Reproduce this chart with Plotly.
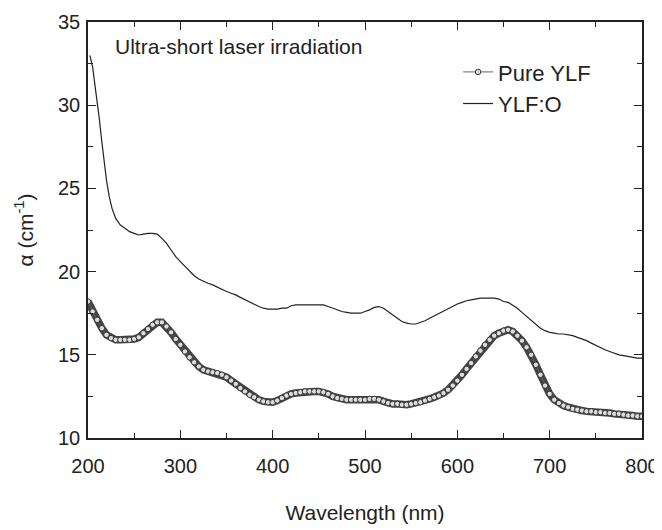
import plotly.graph_objects as go

# Pure YLF
pure_wl = list(range(200, 801, 5))
pure_alpha = [
    18.2, 17.6, 17.1, 16.6, 16.2, 16.0, 15.9, 15.9, 15.9, 15.9,
    15.95, 16.05, 16.3, 16.55, 16.8, 16.95, 16.95, 16.7, 16.35, 15.95,
    15.6, 15.2, 14.85, 14.55, 14.3, 14.1, 14.0, 13.95, 13.9, 13.8,
    13.65, 13.45, 13.25, 13.0, 12.8, 12.6, 12.45, 12.3, 12.2, 12.15,
    12.15, 12.25, 12.4, 12.55, 12.65, 12.7, 12.75, 12.8, 12.8, 12.8,
    12.8, 12.75, 12.65, 12.5, 12.4, 12.35, 12.3, 12.3, 12.3, 12.3,
    12.3, 12.35, 12.35, 12.3, 12.2, 12.1, 12.05, 12.05, 12.0, 12.0,
    12.05, 12.1, 12.15, 12.25, 12.35, 12.45, 12.55, 12.7, 12.9, 13.15,
    13.45, 13.8, 14.15, 14.5, 14.9, 15.25, 15.6, 15.9, 16.15, 16.3,
    16.45, 16.5, 16.4, 16.15, 15.85, 15.45, 15.0, 14.4, 13.8, 13.15,
    12.65, 12.3, 12.1, 11.95, 11.85, 11.75, 11.7, 11.65, 11.6, 11.6,
    11.55, 11.55, 11.5, 11.5, 11.45, 11.45, 11.4, 11.35, 11.35, 11.3,
    11.3,
]

# YLF:O
o_wl = [202, 205, 208, 210, 212, 215, 218, 220, 223, 226] + list(range(230, 801, 5))
o_alpha = [
    33.0, 32.3, 31.0, 30.2, 29.3, 27.8, 26.4, 25.5, 24.5, 23.8,
    23.2, 22.8, 22.6, 22.4, 22.3, 22.2, 22.25, 22.3, 22.3, 22.25,
    22.0, 21.7, 21.3, 20.9, 20.6, 20.3, 20.0, 19.75, 19.55, 19.4,
    19.3, 19.2, 19.05, 18.95, 18.8, 18.7, 18.6, 18.45, 18.3, 18.15,
    18.05, 17.9, 17.8, 17.75, 17.75, 17.75, 17.8, 17.8, 17.95, 18.0,
    18.0, 18.0, 18.0, 18.0, 18.0, 18.0, 17.9, 17.8, 17.7, 17.6,
    17.55, 17.5, 17.5, 17.5, 17.6, 17.7, 17.85, 17.9, 17.8, 17.6,
    17.35, 17.15, 17.0, 16.9, 16.85, 16.85, 16.95, 17.05, 17.2, 17.35,
    17.5, 17.65, 17.8, 17.95, 18.05, 18.15, 18.25, 18.3, 18.35, 18.4,
    18.4, 18.4, 18.4, 18.35, 18.2, 18.15, 18.0, 17.8, 17.55, 17.3,
    17.05, 16.8, 16.6, 16.45, 16.35, 16.3, 16.25, 16.25, 16.2, 16.15,
    16.05, 15.95, 15.85, 15.7, 15.55, 15.45, 15.3, 15.2, 15.1, 15.0,
    14.95, 14.9, 14.85, 14.8, 14.8,
]

x_ticks = [200, 300, 400, 500, 600, 700, 800]
y_ticks = [10, 15, 20, 25, 30, 35]

FONT = "Liberation Sans, Arial, sans-serif"
INK = "#222222"

fig = go.Figure()
# dense band under the Pure YLF markers (same data)
fig.add_trace(go.Scatter(
    x=pure_wl, y=pure_alpha, mode="lines", showlegend=False, hoverinfo="skip",
    line=dict(color="#444444", width=7.5),
))
fig.add_trace(go.Scatter(
    x=pure_wl, y=pure_alpha, mode="lines+markers", name="Pure YLF",
    line=dict(color="#666666", width=1),
    marker=dict(symbol="circle", size=5.5, color="#dcdcdc",
                line=dict(color="#333333", width=1)),
))
fig.add_trace(go.Scatter(
    x=o_wl, y=o_alpha, mode="lines", name="YLF:O",
    line=dict(color="#222222", width=1.2),
))

axis_common = dict(
    showgrid=False, zeroline=False, showline=True, linecolor=INK, linewidth=1.5,
    mirror="ticks", ticks="inside", ticklen=8, tickwidth=1.2, tickcolor=INK,
    tickfont=dict(family=FONT, size=20, color=INK), automargin=False,
)

fig.update_xaxes(
    range=[200, 800], tickvals=x_ticks, ticklabelstandoff=9,
    minor=dict(dtick=50, ticks="inside", ticklen=5, tickwidth=1, tickcolor=INK),
    title=dict(text="Wavelength (nm)", font=dict(family=FONT, size=21, color=INK), standoff=30),
    **axis_common,
)
fig.update_yaxes(
    range=[10, 35], tickvals=y_ticks, ticklabelstandoff=2,
    minor=dict(dtick=2.5, ticks="inside", ticklen=5, tickwidth=1, tickcolor=INK),
    title=dict(text="α (cm<sup>-1</sup>)", font=dict(family=FONT, size=21, color=INK), standoff=19),
    **axis_common,
)

fig.add_annotation(
    x=0.045, y=0.94, xref="paper", yref="paper", xanchor="left", yanchor="middle",
    text="Ultra-short laser irradiation", showarrow=False,
    font=dict(family=FONT, size=21, color=INK),
)

fig.update_layout(
    width=654, height=522,
    margin=dict(l=80, r=20, t=14, b=92),
    paper_bgcolor="white", plot_bgcolor="white",
    showlegend=True,
    legend=dict(x=0.668, y=0.93, xanchor="left", yanchor="top",
                bgcolor="rgba(0,0,0,0)", font=dict(family=FONT, size=22, color=INK),
                tracegroupgap=0),
)

fig.write_html("out.html")
